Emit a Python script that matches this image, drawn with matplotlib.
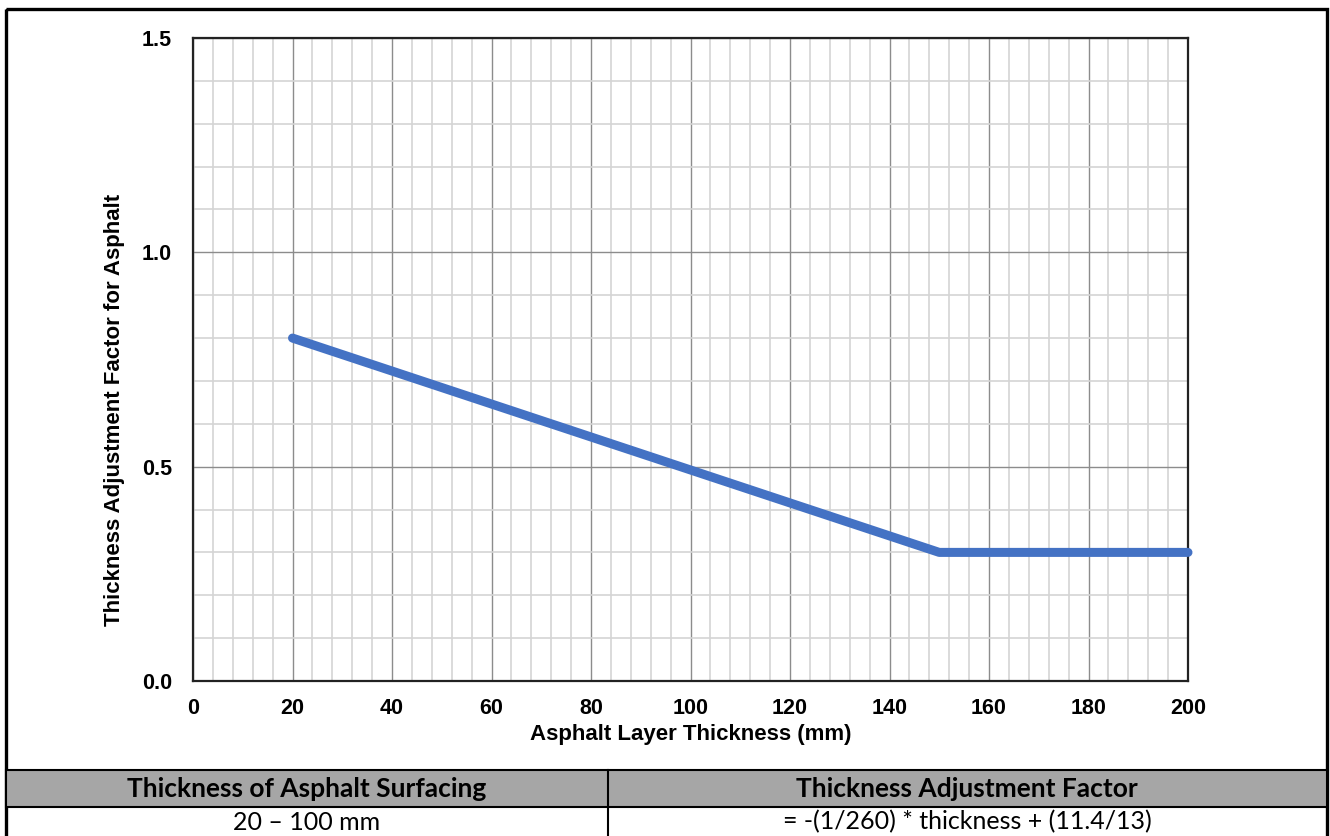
import numpy as np
import matplotlib
matplotlib.use('Agg')
from matplotlib import pyplot as plt
from matplotlib.patches import Rectangle

# data
thickness = [20, 150, 200]
factor = [0.8, 0.3, 0.3]
xticks = [0, 20, 40, 60, 80, 100, 120, 140, 160, 180, 200]
yticks = [0.0, 0.5, 1.0, 1.5]
table_header = ['Thickness of Asphalt Surfacing', 'Thickness Adjustment Factor']
table_row = ['20 \u2013 100 mm', '= -(1/260) * thickness + (11.4/13)']

W, H = 1330, 836
fig = plt.figure(figsize=(W / 100, H / 100), dpi=100)

ax = fig.add_axes([193 / W, 1 - 681 / H, (1188 - 193) / W, (681 - 38) / H])
ax.set_xlim(0, 200)
ax.set_ylim(0, 1.5)
ax.set_xticks(xticks)
ax.set_yticks(yticks)
ax.set_xticks(np.arange(0, 201, 4), minor=True)
ax.set_yticks(np.arange(0, 1.51, 0.1), minor=True)
ax.set_xticklabels([str(t) for t in xticks], fontsize=15.5, fontweight='bold', family='Liberation Sans')
ax.set_yticklabels(['%.1f' % t for t in yticks], fontsize=15.5, fontweight='bold', family='Liberation Sans')
ax.tick_params(which='both', length=0)
ax.tick_params(axis='x', pad=12)
ax.tick_params(axis='y', pad=15)
ax.grid(which='minor', color='#d4d4d4', linewidth=1.2)
ax.grid(which='major', color='#8c8c8c', linewidth=1.0)
ax.set_axisbelow(True)
for s in ax.spines.values():
    s.set_linewidth(1.6)
    s.set_color('#222222')

ax.plot(thickness, factor, color='#4472c4', linewidth=6.5, solid_capstyle='round',
        solid_joinstyle='round', clip_on=False, zorder=3)

ax.set_xlabel('Asphalt Layer Thickness (mm)', fontsize=16, fontweight='bold',
              family='Liberation Sans', labelpad=4)
ax.set_ylabel('Thickness Adjustment Factor for Asphalt', fontsize=16, fontweight='bold',
              family='Liberation Sans')
ax.yaxis.set_label_coords(-0.068, 0.421)

# overlay in pixel coordinates for the frame and the table
ov = fig.add_axes([0, 0, 1, 1], zorder=-1)
ov.set_xlim(0, W)
ov.set_ylim(H, 0)
ov.axis('off')
ov.add_patch(Rectangle((6, 9), 1321, 900, fill=False, edgecolor='black', linewidth=2.4))
ov.add_patch(Rectangle((6, 770), 1321, 37, facecolor='#a6a6a6', edgecolor='black', linewidth=1.5))
ov.plot([608, 608], [770, 836], color='black', linewidth=1.5)

top = fig.add_axes([0, 0, 1, 1], zorder=5)
top.set_xlim(0, W)
top.set_ylim(H, 0)
top.axis('off')
top.text(307, 789, table_header[0], ha='center', va='center', fontsize=19, fontweight='bold', family='Lato')
top.text(967, 789, table_header[1], ha='center', va='center', fontsize=19, fontweight='bold', family='Lato')
top.text(307, 822, table_row[0], ha='center', va='center', fontsize=18, family='Lato')
top.text(967, 822, table_row[1], ha='center', va='center', fontsize=18, family='Lato')

fig.savefig('out.png', dpi=100)
